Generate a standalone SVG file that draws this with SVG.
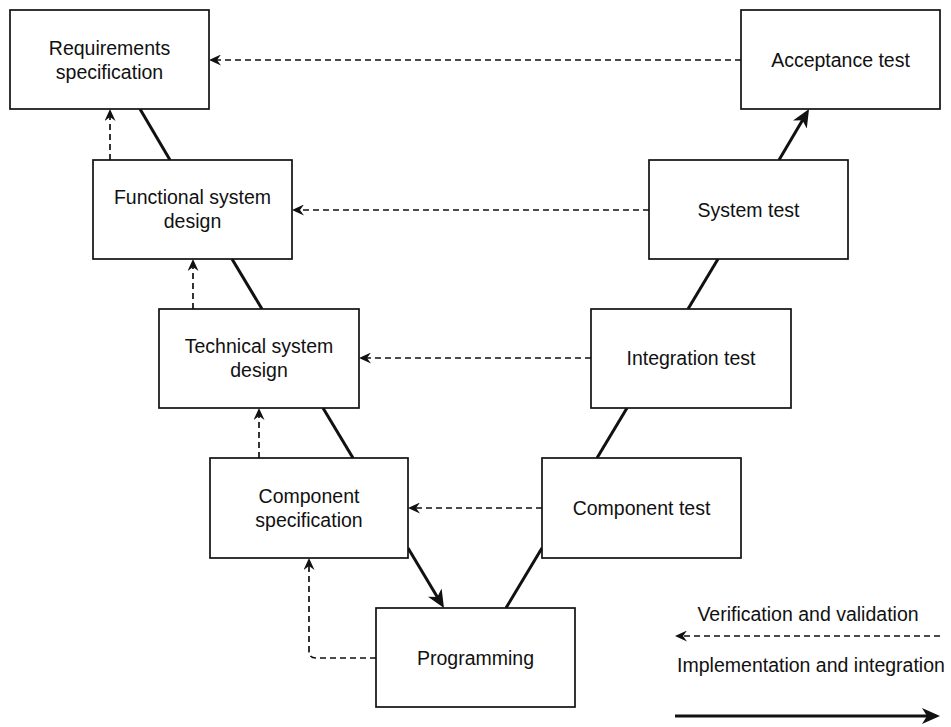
<svg xmlns="http://www.w3.org/2000/svg" width="951" height="727" viewBox="0 0 951 727">
  <style>
    .box { fill: #ffffff; stroke: #111111; stroke-width: 1.7; }
    .lbl { font-family: "Liberation Sans", Arial, Helvetica, sans-serif; font-size: 19.5px; fill: #111111; text-anchor: middle; }
    .solid { fill: none; stroke: #111111; stroke-width: 3; }
    .dash { fill: none; stroke: #111111; stroke-width: 1.7; stroke-dasharray: 6 4; }
  </style>
  <defs>
    <!-- small barbed head for the dashed feedback lines -->
    <marker id="headSmall" viewBox="0 0 12 11" markerWidth="12" markerHeight="11" refX="8" refY="5.5" orient="auto" markerUnits="userSpaceOnUse">
      <path d="M0,0 L12,5.5 L0,11 L4,5.5 Z" fill="#111111"/>
    </marker>
    <!-- larger barbed head for the solid flow lines -->
    <marker id="headLarge" viewBox="0 0 18 16" markerWidth="18" markerHeight="16" refX="12" refY="8" orient="auto" markerUnits="userSpaceOnUse">
      <path d="M0,0 L18,8 L0,16 L5,8 Z" fill="#111111"/>
    </marker>
  </defs>

  <rect width="951" height="727" fill="#ffffff"/>

  <!-- connectors -->
  <g id="connectors">
    <!-- V flow (solid) -->
    <line class="solid" x1="140" y1="109" x2="170" y2="160"/>
    <line class="solid" x1="232" y1="259" x2="262" y2="309"/>
    <line class="solid" x1="323" y1="408" x2="353" y2="458"/>
    <line class="solid" x1="408" y1="548" x2="440.9" y2="602.9" marker-end="url(#headLarge)"/>
    <line class="solid" x1="506" y1="608" x2="542" y2="548"/>
    <line class="solid" x1="597" y1="458" x2="627" y2="408"/>
    <line class="solid" x1="688" y1="309" x2="718" y2="259"/>
    <line class="solid" x1="779" y1="160" x2="806" y2="114.2" marker-end="url(#headLarge)"/>

    <!-- verification (dashed) -->
    <line class="dash" x1="741" y1="60" x2="213" y2="60" marker-end="url(#headSmall)"/>
    <line class="dash" x1="649" y1="210" x2="296" y2="210" marker-end="url(#headSmall)"/>
    <line class="dash" x1="591" y1="358" x2="363" y2="358" marker-end="url(#headSmall)"/>
    <line class="dash" x1="542" y1="508" x2="412" y2="508" marker-end="url(#headSmall)"/>
    <line class="dash" x1="110" y1="160" x2="110" y2="113" marker-end="url(#headSmall)"/>
    <line class="dash" x1="193" y1="309" x2="193" y2="263" marker-end="url(#headSmall)"/>
    <line class="dash" x1="259" y1="458" x2="259" y2="412" marker-end="url(#headSmall)"/>
    <path class="dash" d="M376,658 H316 Q309,658 309,651 V562" marker-end="url(#headSmall)"/>
  </g>

  <!-- nodes -->
  <g id="requirements-specification">
    <rect class="box" x="10" y="10" width="199" height="99"/>
    <text class="lbl" x="109.5" y="55">Requirements</text>
    <text class="lbl" x="109.5" y="79">specification</text>
  </g>
  <g id="functional-system-design">
    <rect class="box" x="93" y="160" width="199" height="99"/>
    <text class="lbl" x="192.5" y="204">Functional system</text>
    <text class="lbl" x="192.5" y="228">design</text>
  </g>
  <g id="technical-system-design">
    <rect class="box" x="159" y="309" width="200" height="99"/>
    <text class="lbl" x="259" y="353">Technical system</text>
    <text class="lbl" x="259" y="377">design</text>
  </g>
  <g id="component-specification">
    <rect class="box" x="210" y="458" width="198" height="100"/>
    <text class="lbl" x="309" y="503">Component</text>
    <text class="lbl" x="309" y="527">specification</text>
  </g>
  <g id="programming">
    <rect class="box" x="376" y="608" width="199" height="99"/>
    <text class="lbl" x="475.5" y="665">Programming</text>
  </g>
  <g id="component-test">
    <rect class="box" x="542" y="458" width="199" height="100"/>
    <text class="lbl" x="641.5" y="515">Component test</text>
  </g>
  <g id="integration-test">
    <rect class="box" x="591" y="309" width="200" height="99"/>
    <text class="lbl" x="691" y="365">Integration test</text>
  </g>
  <g id="system-test">
    <rect class="box" x="649" y="160" width="199" height="99"/>
    <text class="lbl" x="748.5" y="217">System test</text>
  </g>
  <g id="acceptance-test">
    <rect class="box" x="741" y="10" width="199" height="99"/>
    <text class="lbl" x="840.5" y="67">Acceptance test</text>
  </g>

  <!-- legend -->
  <g id="legend">
    <text class="lbl" x="808" y="621">Verification and validation</text>
    <line class="dash" x1="940" y1="636" x2="679" y2="636" marker-end="url(#headSmall)"/>
    <text class="lbl" x="811" y="672">Implementation and integration</text>
    <line class="solid" x1="675" y1="716" x2="934" y2="716" marker-end="url(#headLarge)"/>
  </g>
</svg>
